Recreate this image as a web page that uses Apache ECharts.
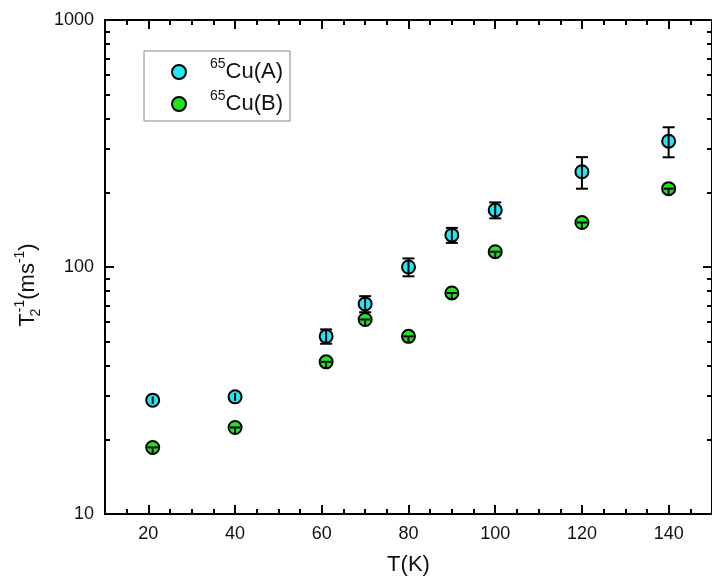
<!DOCTYPE html>
<html>
<head>
<meta charset="utf-8">
<script src="https://cdn.jsdelivr.net/npm/echarts@6/dist/echarts.min.js"></script>
<style>
  html, body { margin: 0; background: #fff; }
  #chart { width: 712px; height: 581px; }
</style>
</head>
<body>
<div id="chart"></div>
<script>
// temperatures (K)
const temps = [21, 40, 61, 70, 80, 90, 100, 120, 140];
// 1/T2 (ms^-1) for the two copper sites, with error half-widths
const cuA = [28.9, 29.8, 52.4, 70.9, 100, 134.6, 170, 243, 323];
const cuAErr = [1.0, 1.1, 3.5, 5.3, 8.3, 9.4, 12.6, 35.5, 44.9];
const cuB = [18.6, 22.4, 41.3, 61.3, 52.4, 78.5, 115.3, 151.4, 207.6];
const cuBErr = [1.0, 1.2, 2.2, 3.3, 2.8, 4.2, 6.2, 8.2, 11.2];
// ticks
const xMajor = [20, 40, 60, 80, 100, 120, 140];
const yMajor = [10, 100, 1000];
const yMinor = [20, 30, 40, 50, 60, 70, 80, 90, 200, 300, 400, 500, 600, 700, 800, 900];

const FONT = 'Arial, "Liberation Sans", sans-serif';
const black = '#000';

const chart = echarts.init(document.getElementById('chart'));

function errorBars(kind) {
  return function (params, api) {
    const x = api.value(0);
    const v = api.value(1);
    const e = api.value(2);
    const c = api.coord([x, v]);
    const hi = api.coord([x, v + e]);
    const lo = api.coord([x, v - e]);
    const style = { stroke: black, lineWidth: 2 };
    if (kind === 'B') {
      // short bar inside the green symbol
      return {
        type: 'group',
        children: [
          { type: 'line', shape: { x1: c[0] - 5, y1: c[1], x2: c[0] + 5, y2: c[1] }, style: style },
          { type: 'line', shape: { x1: c[0], y1: c[1], x2: lo[0], y2: lo[1] }, style: style }
        ]
      };
    }
    const children = [
      { type: 'line', shape: { x1: hi[0], y1: hi[1], x2: lo[0], y2: lo[1] }, style: style }
    ];
    if (lo[1] - hi[1] > 13) {
      children.push(
        { type: 'line', shape: { x1: hi[0] - 6, y1: hi[1], x2: hi[0] + 6, y2: hi[1] }, style: style },
        { type: 'line', shape: { x1: lo[0] - 6, y1: lo[1], x2: lo[0] + 6, y2: lo[1] }, style: style }
      );
    }
    return { type: 'group', children: children };
  };
}

const axisLine = { show: true, onZero: false, lineStyle: { color: black, width: 2 } };

function xAxisDef(position, major, withLabels) {
  return {
    type: 'value',
    position: position,
    min: 10,
    max: 150,
    interval: 5,
    axisLine: axisLine,
    splitLine: { show: false },
    axisTick: major
      ? { inside: true, length: 9, lineStyle: { color: black, width: 2 }, customValues: xMajor }
      : { inside: true, length: 5, lineStyle: { color: black, width: 2 } },
    axisLabel: withLabels
      ? { customValues: xMajor, color: '#111', fontSize: 18, fontFamily: FONT, margin: 11 }
      : { show: false }
  };
}

function yAxisDef(position, major, withLabels) {
  return {
    type: 'log',
    logBase: 10,
    position: position,
    min: 10,
    max: 1000,
    axisLine: axisLine,
    splitLine: { show: false },
    axisTick: major
      ? { inside: true, length: 9, lineStyle: { color: black, width: 2 }, customValues: yMajor }
      : { inside: true, length: 5, lineStyle: { color: black, width: 2 }, customValues: yMinor },
    axisLabel: withLabels
      ? { customValues: yMajor, formatter: (v) => String(v), color: '#111', fontSize: 18, fontFamily: FONT, margin: 11 }
      : { show: false }
  };
}

const xBottom = xAxisDef('bottom', true, true);
xBottom.name = 'T(K)';
xBottom.nameLocation = 'middle';
xBottom.nameGap = 40;
xBottom.nameTextStyle = { color: '#111', fontSize: 22, fontFamily: FONT };

const yLeft = yAxisDef('left', true, true);
yLeft.name = '{t|T}{sub|2}{sup|-1}{t|(ms}{sup|-1}{t|)}';
yLeft.nameLocation = 'middle';
yLeft.nameGap = 60;
yLeft.nameTextStyle = {
  color: '#111',
  fontFamily: FONT,
  padding: [0, 36, 0, 0],
  rich: {
    t: { fontSize: 22, lineHeight: 30, fontFamily: FONT, color: '#111' },
    sup: { fontSize: 14, lineHeight: 12, verticalAlign: 'top', fontFamily: FONT, color: '#111' },
    sub: { fontSize: 14, lineHeight: 12, verticalAlign: 'bottom', fontFamily: FONT, color: '#111', width: 1 }
  }
};

chart.setOption({
  animation: false,
  backgroundColor: '#fff',
  grid: { left: 105, top: 20, width: 610, height: 496 },
  legend: {
    orient: 'vertical',
    left: 144,
    top: 51,
    padding: [6, 7, 6, 27],
    itemGap: 6,
    itemWidth: 14,
    itemHeight: 14,
    borderColor: '#888',
    borderWidth: 1,
    selectedMode: false,
    data: ['Cu(A)', 'Cu(B)'],
    formatter: function (name) {
      return '{sup|65}{t|' + name + '}';
    },
    textStyle: {
      color: '#111',
      fontFamily: FONT,
      rich: {
        sup: { fontSize: 14, lineHeight: 10, verticalAlign: 'top', padding: [0, 0, 0, 19], fontFamily: FONT, color: '#111' },
        t: { fontSize: 22, lineHeight: 30, fontFamily: FONT, color: '#111' }
      }
    }
  },
  xAxis: [xBottom, xAxisDef('bottom', false, false), xAxisDef('top', true, false), xAxisDef('top', false, false)],
  yAxis: [yLeft, yAxisDef('left', false, false), yAxisDef('right', true, false), yAxisDef('right', false, false)],
  series: [
    {
      name: 'Cu(A)',
      type: 'scatter',
      symbol: 'circle',
      symbolSize: 13,
      itemStyle: { color: '#22e6f2', borderColor: black, borderWidth: 2, opacity: 1 },
      data: temps.map((t, i) => [t, cuA[i]]),
      z: 3
    },
    {
      name: 'Cu(B)',
      type: 'scatter',
      symbol: 'circle',
      symbolSize: 13,
      itemStyle: { color: '#1ee61e', borderColor: black, borderWidth: 2, opacity: 1 },
      data: temps.map((t, i) => [t, cuB[i]]),
      z: 3
    },
    {
      type: 'custom',
      renderItem: errorBars('A'),
      data: temps.map((t, i) => [t, cuA[i], cuAErr[i]]),
      z: 4
    },
    {
      type: 'custom',
      renderItem: errorBars('B'),
      data: temps.map((t, i) => [t, cuB[i], cuBErr[i]]),
      z: 4
    }
  ]
});
</script>
</body>
</html>
